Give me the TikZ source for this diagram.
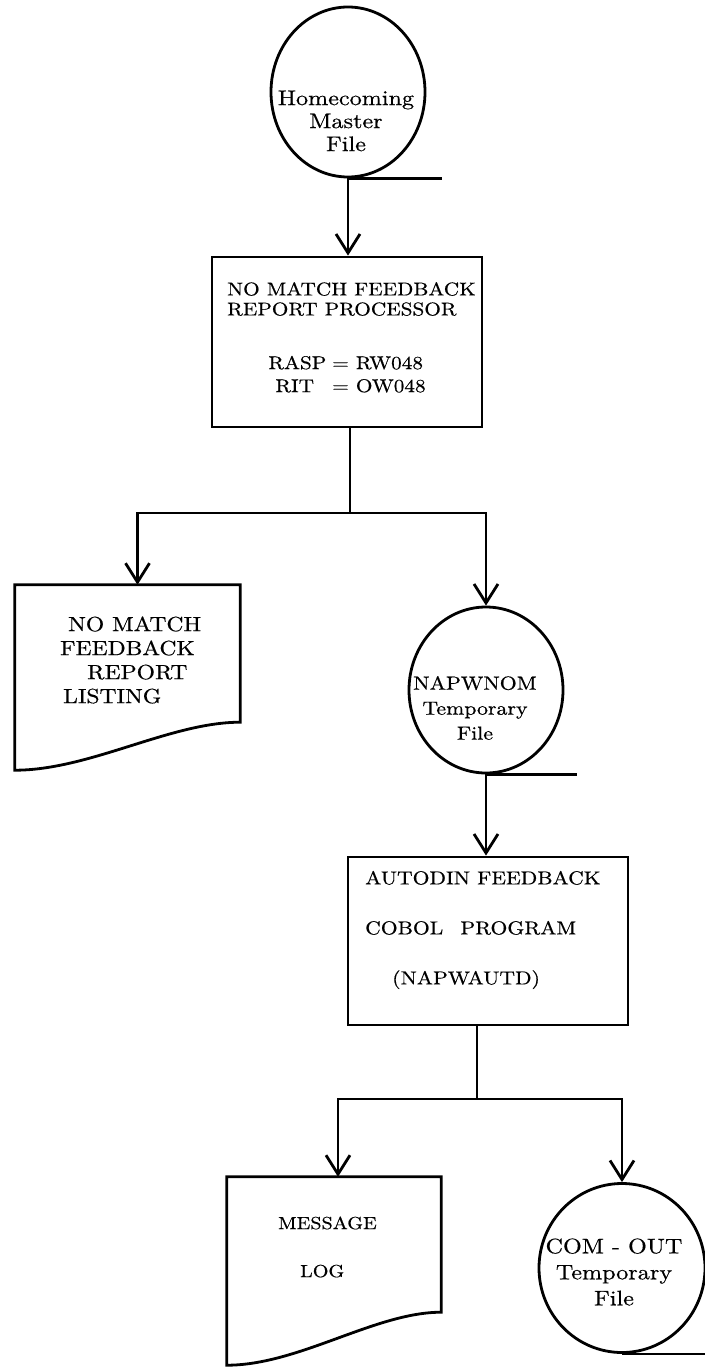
\documentclass[tikz,border=0pt]{standalone}
\usepackage{fontspec}
\usetikzlibrary{shapes.geometric,arrows.meta,calc}

% wide, slightly heavy lettering for all labels
\newfontfamily\diafont{lmroman10-regular.otf}[FakeStretch=1.15, FakeBold=0.5]
\newcommand{\dfs}[2]{\diafont\fontsize{#1}{#2}\selectfont}

\tikzset{
  ln/.style={line width=2.8pt},
  arr/.style={ln, -{Straight Barb[length=19pt,width=24pt]}},
  tape/.style={ellipse, draw, line width=2.8pt, inner sep=0pt},
  procbox/.style={rectangle, draw, line width=2.8pt, inner sep=0pt},
  docarea/.style={rectangle, inner sep=0pt},
  txt/.style={inner sep=0pt, align=center},
}

\begin{document}
\begin{tikzpicture}[x=1pt, y=-1pt]
\useasboundingbox (0,0) rectangle (704,1367);

% ---- input tape: Homecoming Master File
\node[tape, minimum width=154pt, minimum height=170pt] (master) at (348,92) {};
\node[txt, font=\dfs{21}{23}] (mastertxt) at (346,121)
  {Homecoming\\Master\\File};
\draw[ln] (master.south) -- ++(94,0);

% ---- processor box
\node[procbox, minimum width=270pt, minimum height=170pt] (proc) at (347,342) {};
\node[txt, align=left, anchor=west, font=\dfs{18.5}{20}] (proctitle) at (227,299)
  {NO MATCH FEEDBACK\\REPORT PROCESSOR};
\node[txt, font=\dfs{18.5}{23}] (procids) at (347,376)
  {\begin{tabular}{@{}l@{\hspace{6pt}}l@{}}
    RASP & = RW048\\
    \hspace*{7pt}RIT & = OW048
   \end{tabular}};

\draw[arr] (master.south) -- (master.south |- proc.north);

% ---- branch 1
\coordinate (j1) at (350,513);
\draw[ln] (j1 |- proc.south) -- (j1);

% report listing (document symbol)
\node[docarea, minimum width=225pt, minimum height=185pt] (listing) at (127.5,677.5) {};
\draw[ln] (listing.north west) -- (listing.north east)
  -- ([yshift=48pt]listing.south east)
  .. controls +(-70,0) and +(75,0) .. (listing.south west) -- cycle;
\node[txt, align=left, anchor=west, font=\dfs{20.5}{24}] (listingtxt) at (60,660)
  {\hspace*{8pt}NO MATCH\\FEEDBACK\\\hspace*{27pt}REPORT\\\hspace*{3pt}LISTING};

% temporary tape NAPWNOM
\node[tape, minimum width=154pt, minimum height=166pt] (nap) at (486,690) {};
\node[txt, font=\dfs{19}{25}] (naptxt) at (475,708)
  {NAPWNOM\\Temporary\\File};
\draw[ln] (nap.south) -- ++(91,0);

\draw[arr] (j1) -| ([xshift=10pt]listing.north);
\draw[arr] (j1) -| (nap.north);

% ---- AUTODIN feedback program
\node[procbox, minimum width=280pt, minimum height=168pt] (auto) at (488,941) {};
\node[txt, align=left, anchor=west, font=\dfs{18.8}{50}] (autotxt) at (365,930)
  {AUTODIN FEEDBACK\\COBOL\hspace{10pt} PROGRAM\\\hspace*{27pt}(NAPWAUTD)};

\draw[arr] (nap.south) -- (nap.south |- auto.north);

% ---- branch 2
\coordinate (j2) at (477,1099);
\draw[ln] (j2 |- auto.south) -- (j2);

% message log (document symbol)
\node[docarea, minimum width=214pt, minimum height=188pt] (msg) at (334,1271) {};
\draw[ln] (msg.north west) -- (msg.north east)
  -- ([yshift=53pt]msg.south east)
  .. controls +(-66,0) and +(72,0) .. (msg.south west) -- cycle;
\node[txt, align=left, anchor=west, font=\dfs{17.5}{48}] (msgtxt) at (278,1247)
  {MESSAGE\\\hspace*{22pt}LOG};

% output tape COM-OUT
\node[tape, minimum width=166pt, minimum height=169pt] (comout) at (622,1268) {};
\node[txt, font=\dfs{21}{26}] (comouttxt) at (614,1272)
  {COM - OUT\\Temporary\\File};
\draw[ln] (comout.south) -- ++(85,0);

\draw[arr] (j2) -| ([xshift=4pt]msg.north);
\draw[arr] (j2) -| (comout.north);
\end{tikzpicture}
\end{document}
